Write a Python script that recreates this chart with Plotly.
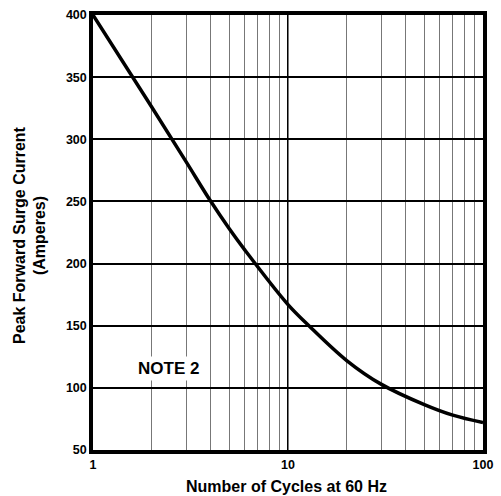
import plotly.graph_objects as go

# Data
cycles = [1, 2, 3, 4, 5, 6, 10, 12.8, 20, 30, 50, 70, 100]
current = [400, 326, 282, 250.5, 228, 211, 167, 150, 122, 103, 86.5, 78, 72]

x_grid = [1, 2, 3, 4, 5, 6, 7, 8, 9, 10, 20, 30, 40, 50, 60, 70, 80, 90, 100]
x_labels = ["1", "", "", "", "", "", "", "", "", "10", "", "", "", "", "", "", "", "", "100"]
y_ticks = [50, 100, 150, 200, 250, 300, 350, 400]

FONT = "Liberation Sans, Arial, sans-serif"

fig = go.Figure()
fig.add_trace(go.Scatter(
    x=cycles, y=current, mode="lines",
    line=dict(color="black", width=3.5, shape="spline", smoothing=1.0),
    showlegend=False, hoverinfo="skip",
))

fig.add_shape(type="line", xref="x", yref="paper", x0=10, x1=10, y0=0, y1=1,
              line=dict(color="black", width=2), layer="below")

fig.update_layout(
    width=501, height=496,
    margin=dict(l=93, r=16, t=8, b=46),
    paper_bgcolor="white", plot_bgcolor="white",
    font=dict(family=FONT, color="black"),
    xaxis=dict(
        type="log", range=[0, 2],
        tickmode="array", tickvals=x_grid, ticktext=x_labels,
        showgrid=True, gridcolor="#777777", gridwidth=1,
        showline=True, linecolor="black", linewidth=3.5, mirror=True,
        ticks="", tickfont=dict(size=12.5, family=FONT, weight="bold"),
        zeroline=False,
    ),
    yaxis=dict(
        range=[50, 400],
        tickmode="array", tickvals=y_ticks,
        showgrid=True, gridcolor="black", gridwidth=1.5,
        showline=True, linecolor="black", linewidth=3.5, mirror=True,
        ticks="", tickfont=dict(size=12.5, family=FONT, weight="bold"),
        zeroline=False,
    ),
    annotations=[
        dict(text="<b>NOTE 2</b>", x=0.388, y=115.7, xref="x", yref="y",
             showarrow=False, font=dict(size=17, family=FONT, color="black"),
             bgcolor="white", borderpad=2, xanchor="center", yanchor="middle"),
        dict(text="<b>Peak Forward Surge Current<br>(Amperes)</b>",
             x=(29 - 93) / 392, y=0.495, xref="paper", yref="paper",
             textangle=-90, showarrow=False, xanchor="center", yanchor="middle",
             font=dict(size=16, family=FONT, color="black")),
        dict(text="<b>Number of Cycles at 60 Hz</b>",
             x=(287 - 93) / 392, y=(450 - 487) / 442, xref="paper", yref="paper",
             showarrow=False, xanchor="center", yanchor="middle",
             font=dict(size=16, family=FONT, color="black")),
    ],
)

fig.write_html("out.html", config={"displayModeBar": False},
               post_script="document.body.style.margin='0';")
